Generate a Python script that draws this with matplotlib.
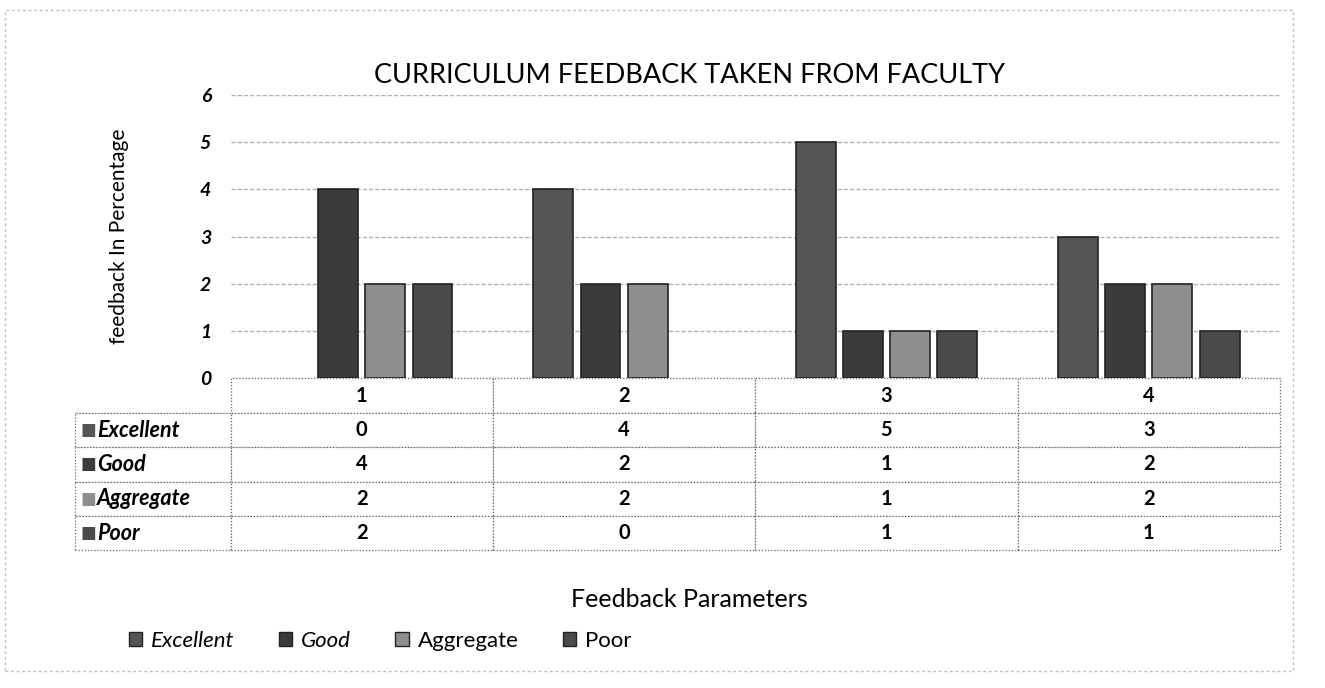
import matplotlib.pyplot as plt
from matplotlib.patches import Patch, Rectangle
import numpy as np

plt.rcParams['font.family'] = ['Lato', 'DejaVu Sans']

params = ['1', '2', '3', '4']
series = ['Excellent', 'Good', 'Aggregate', 'Poor']
excellent = [0, 4, 5, 3]
good = [4, 2, 1, 2]
aggregate = [2, 2, 1, 2]
poor = [2, 0, 1, 1]
colors = ['#555555', '#3b3b3b', '#8e8e8e', '#4a4a4a']

values = [excellent, good, aggregate, poor]

fig = plt.figure(figsize=(13.25, 6.88), dpi=100)
ax = fig.add_axes([0.174, 0.45, 0.792, 0.412])

x = np.arange(len(params))
step = 0.18
width = 0.152
for i, (name, vals) in enumerate(zip(series, values)):
    bars = ax.bar(x + (i - 1.5) * step, vals, width, color=colors[i],
                  edgecolor='#222222', linewidth=1.2, label=name, zorder=3)
    for b, v in zip(bars, vals):
        if v == 0:
            b.set_visible(False)

ax.set_xlim(-0.5, len(params) - 0.5)
ax.set_ylim(0, 6)
ax.set_yticks(range(0, 7))
ax.yaxis.grid(True, color='#b8aeb2', linestyle=(0, (3, 1.5)), linewidth=1, zorder=0)
ax.tick_params(axis='y', length=0, pad=14, labelsize=14)
for t in ax.get_yticklabels():
    t.set_fontweight('bold')
    t.set_fontstyle('italic')
ax.set_xticks([])
for s in ax.spines.values():
    s.set_visible(False)

# data table under the plot (first column holds the series names)
nrows = len(series) + 1
tab_h = 0.607
label_w = 0.148
cell_text = [[''] + [str(v) for v in vals] for vals in values]
tab = ax.table(cellText=cell_text, colLabels=[''] + params,
               colWidths=[label_w] + [0.25] * 4, cellLoc='center',
               bbox=[-label_w, -tab_h, 1 + label_w, tab_h])
tab.auto_set_font_size(False)
for (r, c), cell in tab.get_celld().items():
    cell.set_edgecolor('#666666')
    cell.set_linestyle((0, (1, 1.5)))
    cell.set_linewidth(0.9)
    cell.get_text().set_fontsize(14.5)
    cell.get_text().set_fontweight('bold')
tab[0, 0].visible_edges = 'B'

row_h = tab_h / nrows
for i, name in enumerate(series):
    yc = -(i + 1.5) * row_h
    ax.text(-0.143, yc, '\u25A0', color=colors[i], fontsize=12,
            transform=ax.transAxes, va='center', ha='left')
    ax.text(-0.127, yc, name, fontsize=15.5, fontweight='bold', fontstyle='italic',
            transform=ax.transAxes, va='center', ha='left')

fig.text(0.52, 0.89, 'CURRICULUM FEEDBACK TAKEN FROM FACULTY', ha='center',
         va='center', fontsize=19.5)
fig.text(0.09, 0.656, 'feedback In Percentage', rotation=90, ha='center',
         va='center', fontsize=15)
fig.text(0.52, 0.128, 'Feedback Parameters', ha='center', va='center', fontsize=18)

handles = [Patch(facecolor=colors[i], edgecolor='#222222', label=series[i])
           for i in range(len(series))]
leg = fig.legend(handles=handles, loc='center left', bbox_to_anchor=(0.082, 0.068),
                 ncol=4, frameon=False, fontsize=16, handlelength=0.6,
                 handleheight=0.6, handletextpad=0.4, columnspacing=2.0)
for t, style in zip(leg.get_texts(), ['italic', 'italic', 'normal', 'normal']):
    t.set_fontstyle(style)

fig.patches.append(Rectangle((0.004, 0.025), 0.972, 0.96, transform=fig.transFigure,
                             fill=False, edgecolor='#c4bcc0', linewidth=1,
                             linestyle=(0, (2, 2))))

fig.savefig('out.png', dpi=100, facecolor='white')
